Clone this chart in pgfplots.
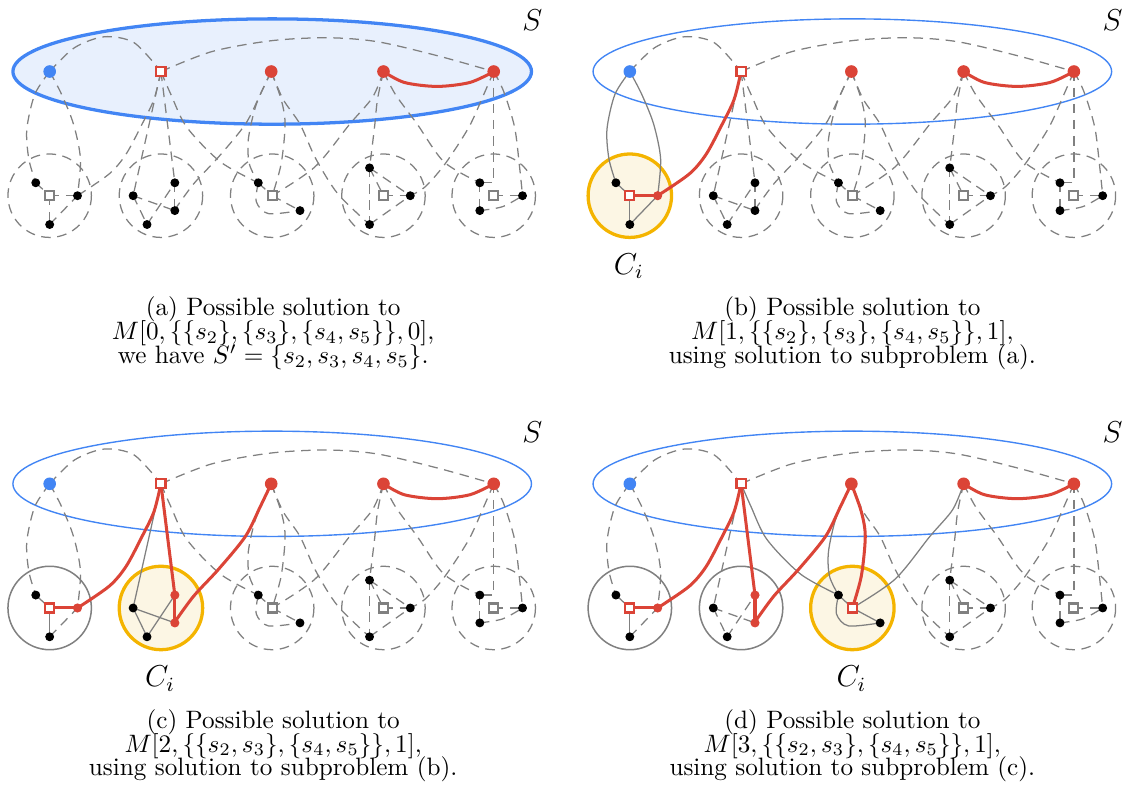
\documentclass[border=0pt]{standalone}
\usepackage{pgfplots}
\pgfplotsset{compat=1.18}
\definecolor{egray}{RGB}{128,128,128}
\definecolor{ered}{RGB}{219,68,55}
\definecolor{eblue}{RGB}{66,133,244}
\definecolor{eorange}{RGB}{244,180,0}
\definecolor{eyellow}{RGB}{252,246,228}
\definecolor{elblue}{RGB}{232,240,253}

\tikzset{
 Dd/.style={draw=egray, line width=0.5pt, dash pattern=on 3.8pt off 2.6pt},
 Gs/.style={draw=egray, line width=0.5pt, solid},
 Rs/.style={draw=ered, line width=1.2pt, solid},
 CiS/.style={draw=eorange, fill=eyellow, line width=1.3pt, solid},
 CgS/.style={draw=egray, line width=0.6pt, solid},
 EllA/.style={draw=eblue, fill=elblue, line width=1.3pt, solid},
 EllB/.style={draw=eblue, line width=0.55pt, solid},
 capt/.style={inner sep=0pt, anchor=base},
}
\pgfplotsset{
 MdotK/.style={only marks, mark=*, mark size=1.55pt, mark options={draw=black, fill=black, solid}},
 MdotR/.style={only marks, mark=*, mark size=1.6pt, mark options={draw=ered, fill=ered, solid}},
 MsqG/.style={only marks, mark=square*, mark size=1.8pt, mark options={draw=egray, fill=white, line width=0.85pt, solid}},
 MsqR/.style={only marks, mark=square*, mark size=1.8pt, mark options={draw=ered, fill=white, line width=0.85pt, solid}},
 MtopB/.style={only marks, mark=*, mark size=2.3pt, mark options={draw=eblue, fill=eblue, solid}},
 MtopR/.style={only marks, mark=*, mark size=2.3pt, mark options={draw=ered, fill=ered, solid}},
 panel/.style={hide axis, clip=false, x=0.3945pt, y=0.3945pt, y dir=reverse,
   xmin=0, ymin=0, anchor=north west},
}

\newcommand\Graph{%
\draw[Ell] (axis cs:274,72) ellipse [x radius=261, y radius=53];
\draw[Cone] (axis cs:50,197) circle [radius=42];
\draw[Ctwo] (axis cs:162,197) circle [radius=42];
\draw[Cthree] (axis cs:274,197) circle [radius=42];
\draw[Dd] (axis cs:386,197) circle [radius=42];
\draw[Dd] (axis cs:497,197) circle [radius=42];
% always dashed
\addplot[Dd,smooth,mark=none] coordinates {(50,72)(75,48)(105,37)(135,43)(162,72)};
\addplot[Dd,smooth,mark=none] coordinates {(162,72)(213,52)(273,41)(330,38)(380,42)(440,56)(497,72)};
\addplot[Dd,smooth,mark=none] coordinates {(273,72)(285,100)(302,125)(318,160)(340,195)(372,226)};
\addplot[Dd,smooth,mark=none] coordinates {(386,72)(380,100)(377,128)(372,169)};
\addplot[Dd,smooth,mark=none] coordinates {(386,72)(398,95)(420,125)(447,163)(483,184)};
\addplot[Dd,smooth,mark=none] coordinates {(497,72)(487,95)(472,128)(448,165)(428,188)(413,197)};
\addplot[Dd,mark=none] coordinates {(497,72)(497,184)(483,184)};
\addplot[Dd,smooth,mark=none] coordinates {(497,72)(507,92)(518,128)(523,168)(526,197)};
\addplot[Dd,mark=none] coordinates {(372,169)(386,197)};
\addplot[Dd,mark=none] coordinates {(372,169)(372,226)};
\addplot[Dd,mark=none] coordinates {(372,169)(413,197)};
\addplot[Dd,mark=none] coordinates {(386,197)(413,197)};
\addplot[Dd,mark=none] coordinates {(372,226)(413,197)};
\addplot[Dd,mark=none] coordinates {(483,184)(483,212)};
\addplot[Dd,mark=none] coordinates {(497,197)(526,197)};
\addplot[Dd,smooth,mark=none] coordinates {(483,212)(506,208)(526,197)};
% group A
\addplot[gA,smooth,mark=none] coordinates {(50,72)(35,95)(27,130)(29,160)(36,184)};
\addplot[gA,smooth,mark=none] coordinates {(50,72)(62,95)(74,125)(81,160)(78,197)};
\addplot[gA,mark=none] coordinates {(50,226)(78,197)};
% group G
\addplot[gG,mark=none] coordinates {(36,184)(50,197)};
\addplot[gG,mark=none] coordinates {(50,197)(50,226)};
% group C
\addplot[gC,mark=none] coordinates {(162,72)(134,197)};
\addplot[gC,mark=none] coordinates {(134,197)(176,212)};
\addplot[gC,mark=none] coordinates {(134,197)(148,226)};
\addplot[gC,mark=none] coordinates {(148,226)(176,184)};
% group E
\addplot[gE,smooth,mark=none] coordinates {(162,72)(172,95)(188,128)(222,163)(260,184)};
\addplot[gE,smooth,mark=none] coordinates {(273,72)(258,105)(250,140)(251,165)(260,184)};
\addplot[gE,smooth,mark=none] coordinates {(386,72)(375,98)(352,125)(317,168)(274,197)};
\addplot[gE,mark=none] coordinates {(260,184)(274,197)};
\addplot[gE,mark=none] coordinates {(274,197)(302,212)};
\addplot[gE,smooth,mark=none] coordinates {(260,184)(258,203)(270,215)(302,212)};
% group B
\addplot[gB,smooth,mark=none] coordinates {(162,72)(155,100)(143,125)(127,155)(110,175)(78,197)};
\addplot[gB,mark=none] coordinates {(50,197)(78,197)};
% group D
\addplot[gD,mark=none] coordinates {(162,72)(176,184)};
\addplot[gD,smooth,mark=none] coordinates {(273,72)(262,95)(247,125)(220,158)(195,185)(176,211)};
\addplot[gD,mark=none] coordinates {(176,184)(176,212)};
% group F
\addplot[gF,smooth,mark=none] coordinates {(273,72)(283,100)(287,125)(283,165)(274,197)};
% s4 - s5
\addplot[Rs,smooth,mark=none] coordinates {(386,72)(407,83)(440,87)(473,83)(497,72)};
% nodes
\addplot[MdotK] coordinates {(36,184)(50,226)(134,197)(148,226)(260,184)(302,212)(372,169)(413,197)(372,226)(483,184)(526,197)(483,212)};
\addplot[mTwo] coordinates {(78,197)};
\addplot[mThree] coordinates {(176,184)(176,212)};
\addplot[mOne] coordinates {(50,197)};
\addplot[mFour] coordinates {(274,197)};
\addplot[MsqG] coordinates {(386,197)(497,197)};
\addplot[MtopB] coordinates {(50,72)};
\addplot[MtopR] coordinates {(273,72)(386,72)(497,72)};
\addplot[MsqR] coordinates {(162,72)};
\node at (axis cs:536,20) {\large$S$};
}

\begin{document}
\begin{tikzpicture}
% ---------- (a)
\tikzset{gA/.style={Dd}, gB/.style={Dd}, gC/.style={Dd}, gD/.style={Dd},
 gE/.style={Dd}, gF/.style={Dd}, gG/.style={Dd},
 Cone/.style={Dd}, Ctwo/.style={Dd}, Cthree/.style={Dd}, Ell/.style={EllA}}
\pgfplotsset{mOne/.style={MsqG}, mTwo/.style={MdotK}, mThree/.style={MdotK}, mFour/.style={MsqG}}
\begin{axis}[panel, at={(0pt,0pt)}, xmax=560, ymax=415]
\path (axis cs:0,0) rectangle (axis cs:560,415);
\Graph
\node[capt] at (axis cs:275,318) {(a) Possible solution to};
\node[capt] at (axis cs:275,342) {$M[0,\{\{s_2\},\{s_3\},\{s_4,s_5\}\},0]$,};
\node[capt] at (axis cs:275,366) {we have $S'=\{s_2,s_3,s_4,s_5\}$.};
\end{axis}
% ---------- (b)
\tikzset{gA/.style={Gs}, gB/.style={Rs}, gC/.style={Dd}, gD/.style={Dd},
 gE/.style={Dd}, gF/.style={Dd}, gG/.style={Gs},
 Cone/.style={CiS}, Ctwo/.style={Dd}, Cthree/.style={Dd}, Ell/.style={EllB}}
\pgfplotsset{mOne/.style={MsqR}, mTwo/.style={MdotR}, mThree/.style={MdotK}, mFour/.style={MsqG}}
\begin{axis}[panel, at={({584*0.3945pt},0pt)}, xmax=547, ymax=415]
\path (axis cs:0,0) rectangle (axis cs:547,415);
\Graph
\node at (axis cs:49,268) {\large$C_i$};
\node[capt] at (axis cs:274,318) {(b) Possible solution to};
\node[capt] at (axis cs:274,342) {$M[1,\{\{s_2\},\{s_3\},\{s_4,s_5\}\},1]$,};
\node[capt] at (axis cs:274,366) {using solution to subproblem (a).};
\end{axis}
% ---------- (c)
\tikzset{gA/.style={Dd}, gB/.style={Rs}, gC/.style={Gs}, gD/.style={Rs},
 gE/.style={Dd}, gF/.style={Dd}, gG/.style={Gs},
 Cone/.style={CgS}, Ctwo/.style={CiS}, Cthree/.style={Dd}, Ell/.style={EllB}}
\pgfplotsset{mOne/.style={MsqR}, mTwo/.style={MdotR}, mThree/.style={MdotR}, mFour/.style={MsqG}}
\begin{axis}[panel, at={(0pt,{-415*0.3945pt})}, xmax=560, ymax=388]
\path (axis cs:0,0) rectangle (axis cs:560,388);
\Graph
\node at (axis cs:161,268) {\large$C_i$};
\node[capt] at (axis cs:275,318) {(c) Possible solution to};
\node[capt] at (axis cs:275,342) {$M[2,\{\{s_2,s_3\},\{s_4,s_5\}\},1]$,};
\node[capt] at (axis cs:275,366) {using solution to subproblem (b).};
\end{axis}
% ---------- (d)
\tikzset{gA/.style={Dd}, gB/.style={Rs}, gC/.style={Dd}, gD/.style={Rs},
 gE/.style={Gs}, gF/.style={Rs}, gG/.style={Gs},
 Cone/.style={CgS}, Ctwo/.style={CgS}, Cthree/.style={CiS}, Ell/.style={EllB}}
\pgfplotsset{mOne/.style={MsqR}, mTwo/.style={MdotR}, mThree/.style={MdotR}, mFour/.style={MsqR}}
\begin{axis}[panel, at={({584*0.3945pt},{-415*0.3945pt})}, xmax=547, ymax=388]
\path (axis cs:0,0) rectangle (axis cs:547,388);
\Graph
\node at (axis cs:273,268) {\large$C_i$};
\node[capt] at (axis cs:274,318) {(d) Possible solution to};
\node[capt] at (axis cs:274,342) {$M[3,\{\{s_2,s_3\},\{s_4,s_5\}\},1]$,};
\node[capt] at (axis cs:274,366) {using solution to subproblem (c).};
\end{axis}
\end{tikzpicture}
\end{document}
